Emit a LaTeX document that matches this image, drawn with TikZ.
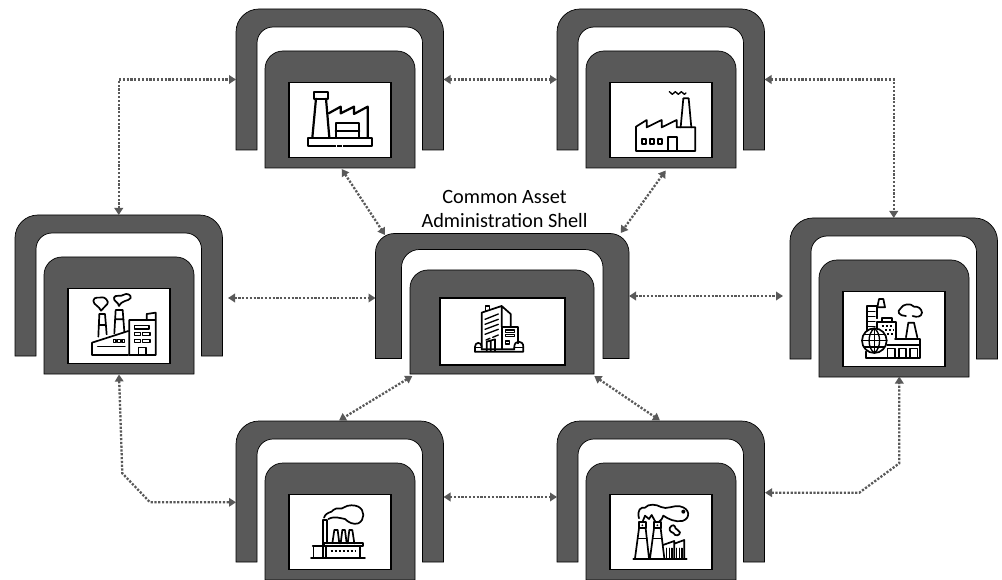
\documentclass[tikz,border=0pt]{standalone}
\usepackage{fontspec}
\setmainfont{Carlito}
\usetikzlibrary{arrows.meta}
\definecolor{shellgray}{HTML}{595959}
\tikzset{
  shellbody/.style={fill=shellgray,draw=black,line width=0.7pt},
  screenbox/.style={draw=black,fill=white,line width=1.3pt,inner sep=0pt,outer sep=0pt},
  anchorbox/.style={inner sep=0pt,outer sep=0pt},
  link/.style={draw=shellgray,line width=2.3pt,dash pattern=on 2.2pt off 1.6pt,
    {Triangle[length=7pt,width=8.5pt]}-{Triangle[length=7pt,width=8.5pt]}},
  icon/.style={draw=black,line width=1.7pt,line join=round,line cap=round},
  iconthin/.style={draw=black,line width=1.35pt,line join=round,line cap=round},
  title/.style={font=\fontsize{20.3}{24}\selectfont,align=center,inner sep=0pt}
}
% name x y w h tx ty ro ri
\newcommand{\archshape}[9]{%
  \filldraw[shellbody] ({#2},{#3+#5}) -- ({#2},{#3+#8})
    .. controls ({#2},{#3+0.45*#8}) and ({#2+0.45*#8},{#3}) .. ({#2+#8},{#3})
    -- ({#2+#4-#8},{#3})
    .. controls ({#2+#4-0.45*#8},{#3}) and ({#2+#4},{#3+0.45*#8}) .. ({#2+#4},{#3+#8})
    -- ({#2+#4},{#3+#5}) -- ({#2+#4-#6},{#3+#5}) -- ({#2+#4-#6},{#3+#7+#9})
    .. controls ({#2+#4-#6},{#3+#7+0.45*#9}) and ({#2+#4-#6-0.45*#9},{#3+#7}) .. ({#2+#4-#6-#9},{#3+#7})
    -- ({#2+#6+#9},{#3+#7})
    .. controls ({#2+#6+0.45*#9},{#3+#7}) and ({#2+#6},{#3+#7+0.45*#9}) .. ({#2+#6},{#3+#7+#9})
    -- ({#2+#6},{#3+#5}) -- cycle;
  \node[anchorbox,minimum width=#4pt,minimum height=#5pt] (#1) at ({#2+#4/2},{#3+#5/2}) {};
}
% name x y w h r
\newcommand{\blockshape}[6]{%
  \filldraw[shellbody] ({#2},{#3+#5}) -- ({#2},{#3+#6})
    .. controls ({#2},{#3+0.45*#6}) and ({#2+0.45*#6},{#3}) .. ({#2+#6},{#3})
    -- ({#2+#4-#6},{#3})
    .. controls ({#2+#4-0.45*#6},{#3}) and ({#2+#4},{#3+0.45*#6}) .. ({#2+#4},{#3+#6})
    -- ({#2+#4},{#3+#5}) -- cycle;
  \node[anchorbox,minimum width=#4pt,minimum height=#5pt] (#1) at ({#2+#4/2},{#3+#5/2}) {};
}
% name x y w h
\newcommand{\screenshape}[5]{%
  \node[screenbox,minimum width=#4pt,minimum height=#5pt] (#1) at ({#2+#4/2},{#3+#5/2}) {};
}
% name x y
\newcommand{\stdshell}[3]{%
  \archshape{#1A}{#2}{#3}{207.5}{141}{21}{18}{23}{16}%
  \blockshape{#1B}{#2+29}{#3+42}{150}{117}{18}%
  \screenshape{#1S}{#2+53}{#3+73.5}{102}{75}%
}
\begin{document}
\begin{tikzpicture}[x=1pt,y=-1pt]
\useasboundingbox (0,0) rectangle (1002,580);
\fill[white] (0,0) rectangle (1002,580);

\stdshell{tl}{236}{9}
\stdshell{tr}{557}{9}
\stdshell{le}{15}{215}
\stdshell{ri}{790}{218}
\stdshell{bl}{236}{421}
\stdshell{br}{557}{421}

\archshape{ceA}{375.5}{233.5}{253.5}{125}{26}{16}{19}{18}
\blockshape{ceB}{410}{270}{184}{104}{18}
\screenshape{ceS}{440}{298}{125}{67}

\node[title] (label) at (504.5,208.5) {Common Asset\\Administration Shell};

% connectors
\coordinate (a1) at (341.7,169);
\coordinate (a2) at (385,235);
\coordinate (b1) at (665.7,170.5);
\coordinate (b2) at (620.7,233);
\coordinate (c1) at (228,298);
\coordinate (c2) at (375.5,298);
\coordinate (d1) at (629,296);
\coordinate (d2) at (783,296);
\coordinate (e1) at (412.3,376);
\coordinate (e2) at (339,420.5);
\coordinate (f1) at (594.3,376);
\coordinate (f2) at (660,420.5);
\coordinate (g1) at (119,374.5);
\coordinate (g2) at (122.3,473.3);
\coordinate (g3) at (150,502.3);
\coordinate (g4) at (236,502.3);
\coordinate (h1) at (765,492.7);
\coordinate (h2) at (859.3,492.7);
\coordinate (h3) at (899.3,463.3);
\coordinate (h4) at (899.3,376.5);
\coordinate (i1) at (443.5,497);
\coordinate (i2) at (557,497);

\draw[link] (leA.north) |- (tlA.west);
\draw[link] (tlA.east) -- (trA.west);
\draw[link] (trA.east) -| (riA.north);
\draw[link] (a1) -- (a2);
\draw[link] (b1) -- (b2);
\draw[link] (c1) -- (c2);
\draw[link] (d1) -- (d2);
\draw[link] (e1) -- (e2);
\draw[link] (f1) -- (f2);
\draw[link] (g1) -- (g2) -- (g3) -- (g4);
\draw[link] (h1) -- (h2) -- (h3) -- (h4);
\draw[link] (i1) -- (i2);

% icon: top left
\begin{scope}[shift={(230,0)},scale=1/3]
 \draw[icon,line width=2.2pt] (233,413) rectangle (427,438);
 \draw[icon,line width=2.2pt] (252,276) rectangle (295,296);
 \draw[icon,line width=2.2pt] (258,296) -- (247,413) (288,296) -- (298,413);
 \draw[icon,line width=2.2pt] (296,340) -- (332,320) -- (332,340) -- (372,320) -- (372,342) -- (413,320) -- (413,413);
 \draw[icon,line width=2.2pt] (317,413) -- (317,370) -- (388,370) -- (388,413) (317,392) -- (388,392);
 \draw[white,line width=2.2pt] (317,438) -- (322,438) (335,438) -- (340,438);
\end{scope}

% icon: top right
\begin{scope}[shift={(550,0)},scale=1/3]
 \draw[icon] (258,453) -- (258,380) -- (290,360) -- (290,382) -- (335,360) -- (335,382) -- (380,360) -- (380,382) -- (436,382) -- (436,453) -- cycle;
 \draw[icon] (392,382) -- (400,295) -- (416,295) -- (424,382);
 \draw[icon] (277,417) rectangle (289,433) (300,417) rectangle (312,433) (323,417) rectangle (336,433);
 \draw[icon] (355,453) -- (355,410) -- (382,410) -- (382,453);
 \draw[iconthin] (358,275) -- (367,283) -- (376,275) -- (385,283) -- (394,275) -- (403,283) -- (408,279);
\end{scope}

% icon: left
\begin{scope}[shift={(0,200)},scale=1/3]
 \draw[icon] (276,465) -- (276,428) -- (385,393) (276,465) -- (385,465);
 \draw[icon] (388,465) -- (388,360) -- (440,360) -- (440,342) -- (467,338) -- (467,360) -- (388,360) (467,360) -- (467,465) -- (388,465);
 \draw[icon] (295,410) -- (298,342) -- (315,342) -- (320,403) (296,375) -- (318,375);
 \draw[icon] (343,400) -- (347,330) -- (368,330) -- (373,395) (345,358) -- (371,358);
 \draw[iconthin] (293,440) -- (375,440);
 \draw[iconthin] (340,418) rectangle (348,428) (353,418) rectangle (361,428) (366,418) rectangle (374,428);
 \draw[iconthin] (403,376) rectangle (447,387);
 \draw[iconthin] (403,397) rectangle (422,407) (428,397) rectangle (450,407) (403,418) rectangle (422,428) (428,418) rectangle (450,428);
 \draw[iconthin] (415,465) -- (415,443) -- (438,443) -- (438,465);
 \draw[icon] (303,332) .. controls (298,318) and (280,315) .. (280,302) .. controls (282,288) and (300,295) .. (306,292) .. controls (315,290) and (328,305) .. (322,312) .. controls (314,320) and (312,320) .. (303,332);
 \draw[icon] (357,318) .. controls (355,305) and (340,305) .. (342,293) .. controls (346,282) and (362,292) .. (372,284) .. controls (380,278) and (395,285) .. (392,294) .. controls (385,305) and (368,298) .. (357,318);
\end{scope}

% icon: right
\begin{scope}[shift={(780,200)},scale=1/3]
 \draw[icon] (258,473) -- (420,473) -- (420,418) -- (345,418);
 \draw[icon] (322,435) -- (420,435);
 \draw[iconthin] (322,473) -- (322,445) -- (345,445) -- (345,473) (357,473) -- (357,445) -- (378,445) -- (378,473) (390,473) -- (390,445) -- (412,445) -- (412,473);
 \draw[icon] (378,412) -- (385,368) -- (402,368) -- (412,412);
 \draw[icon] (260,392) -- (260,318) -- (290,318) -- (290,355);
 \draw[iconthin] (260,335) -- (285,335) (260,350) -- (285,350) (260,365) -- (285,365) (260,380) -- (285,380);
 \draw[icon] (292,322) -- (297,297) -- (310,297) -- (315,322) -- (292,322);
 \draw[icon] (290,388) -- (290,365) -- (347,365) -- (347,415) (305,365) -- (305,355) -- (335,355) -- (335,365);
 \draw[iconthin,dash pattern=on 2pt off 2pt,line cap=butt] (305,378) -- (340,378) (315,390) -- (340,390) (322,402) -- (340,402);
 \draw[icon] (258,473) -- (258,455);
 \draw[icon,fill=white] (283,422) circle (37);
 \draw[iconthin] (246,422) -- (320,422) (283,385) -- (283,459) (252,403) -- (314,403) (252,441) -- (314,441);
 \draw[iconthin] (283,385) .. controls (262,400) and (262,444) .. (283,459) .. controls (304,444) and (304,400) .. (283,385);
 \draw[icon] (378,348) .. controls (358,348) and (348,335) .. (362,325) .. controls (368,312) and (392,308) .. (402,320) .. controls (412,318) and (425,325) .. (426,338) .. controls (424,352) and (410,352) .. (398,348);
\end{scope}

% icon: centre
\begin{scope}[shift={(440,290)},scale=1/3]
 \draw[icon] (125,178) -- (125,68) -- (185,48) -- (212,72) -- (212,110) (185,48) -- (185,110);
 \draw[iconthin] (137,62) -- (137,48) -- (148,48) -- (148,58);
 \draw[iconthin] (135,88) -- (175,72) (135,103) -- (175,88) (135,118) -- (175,103) (135,133) -- (175,118) (138,150) -- (150,145) (158,142) -- (175,135);
 \draw[icon] (187,178) -- (187,110) -- (233,110) -- (233,160);
 \draw[iconthin] (197,120) rectangle (223,127) (197,133) rectangle (223,140) (197,153) rectangle (208,162);
 \draw[icon] (140,183) -- (140,155) -- (165,148) -- (165,183) (152,152) -- (152,183);
 \draw[icon] (105,185) -- (250,185) -- (250,170) .. controls (250,150) and (223,150) .. (223,170) -- (223,178) -- (125,178);
 \draw[icon] (105,185) -- (105,170) .. controls (105,155) and (125,155) .. (125,170);
 \draw[iconthin] (105,172) -- (125,172) (223,172) -- (250,172);
\end{scope}

% icon: bottom left
\begin{scope}[shift={(300,495)},scale=1/3]
 \draw[icon] (33,188) -- (195,188);
 \draw[icon] (68,188) -- (68,75) -- (82,75) -- (82,145);
 \draw[icon] (97,145) -- (103,105) -- (113,105) -- (118,145);
 \draw[icon] (122,145) -- (127,105) -- (135,105) -- (140,145);
 \draw[icon] (143,145) -- (148,105) -- (157,105) -- (163,145);
 \draw[icon] (72,145) rectangle (188,152);
 \draw[icon] (78,152) -- (78,188) (180,152) -- (180,188);
 \draw[iconthin] (40,188) -- (40,157) (38,153) -- (68,153);
 \draw[iconthin,dash pattern=on 2pt off 2pt,line cap=butt] (92,168) -- (165,168);
 \draw[icon] (72,68) .. controls (80,48) and (95,55) .. (100,45) .. controls (110,35) and (125,45) .. (130,38) .. controls (145,28) and (165,30) .. (175,35) .. controls (195,45) and (195,75) .. (175,85) .. controls (160,90) and (145,82) .. (135,72) .. controls (120,70) and (105,62) .. (85,72);
\end{scope}

% icon: bottom right
\begin{scope}[shift={(625,495)},scale=1/3]
 \draw[icon] (25,192) -- (185,192);
 \draw[icon] (42,82) rectangle (62,100) (87,82) rectangle (107,100);
 \draw[icon] (42,100) -- (30,190) (62,100) -- (72,190) (87,100) -- (75,190) (107,100) -- (118,190);
 \draw[iconthin] (38,130) -- (66,130) (83,130) -- (111,130);
 \fill (52,91) circle (3) (97,91) circle (3);
 \draw[icon] (114,150) -- (148,138) -- (148,190) (148,146) -- (178,135) -- (178,190);
 \draw[iconthin] (125,160) -- (125,188) (133,160) -- (133,188) (141,160) -- (141,188) (155,160) -- (155,188) (163,160) -- (163,188) (171,160) -- (171,188);
 \draw[icon] (42,70) .. controls (35,45) and (48,35) .. (60,38) .. controls (70,25) and (95,28) .. (108,36) .. controls (125,45) and (145,30) .. (165,34) .. controls (195,40) and (198,70) .. (172,78) .. controls (150,82) and (130,72) .. (115,62) .. controls (112,72) and (108,76) .. (102,80);
 \draw[icon] (52,82) -- (60,62) -- (72,72) -- (80,60) -- (92,82);
 \fill (175,50) circle (6);
 \draw[icon] (140,92) .. controls (130,100) and (132,110) .. (145,114) .. controls (150,125) and (165,122) .. (165,112) .. controls (162,102) and (150,105) .. (150,95) .. controls (148,90) and (144,90) .. (140,92);
\end{scope}
\end{tikzpicture}
\end{document}
